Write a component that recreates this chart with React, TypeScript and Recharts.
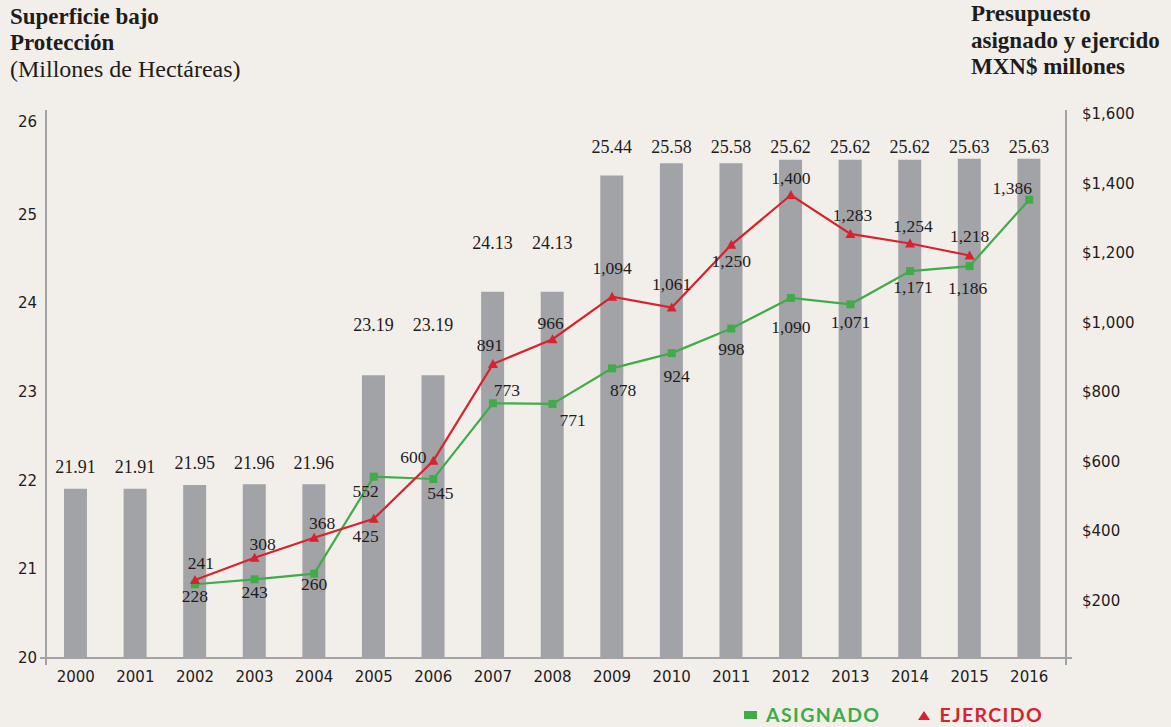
import React from 'react';
import { ComposedChart, Bar, Line, XAxis, YAxis, LabelList } from 'recharts';

const YEARS = ['2000', '2001', '2002', '2003', '2004', '2005', '2006', '2007', '2008', '2009', '2010', '2011', '2012', '2013', '2014', '2015', '2016'];
const SUPERFICIE = [21.91, 21.91, 21.95, 21.96, 21.96, 23.19, 23.19, 24.13, 24.13, 25.44, 25.58, 25.58, 25.62, 25.62, 25.62, 25.63, 25.63];
const ASIGNADO = [null, null, 228, 243, 260, 552, 545, 773, 771, 878, 924, 998, 1090, 1071, 1171, 1186, 1386];
const EJERCIDO = [null, null, 241, 308, 368, 425, 600, 891, 966, 1094, 1061, 1250, 1400, 1283, 1254, 1218, null];
const LEFT_TICKS = [20, 21, 22, 23, 24, 25, 26];
const RIGHT_TICKS = [6, 200, 400, 600, 800, 1000, 1200, 1400, 1600];

// label placement config (layout only)
const BAR_LABEL_GAP = [22, 22, 22, 21, 21, 50, 50, 49, 49, 29, 16, 16, 13, 13, 13, 12, 12];
const EJ_LABEL_OFF: [number, number][] = [[0, 0], [0, 0], [6, -17], [8, -14], [8, -15], [-8, 17], [-20, -4], [-3, -19], [-2, -16], [0, -29], [0, -24], [0, 16], [0, -17], [2, -19], [3, -18], [0, -19], [0, 0]];
const AS_LABEL_OFF: [number, number][] = [[0, 0], [0, 0], [0, 12], [0, 13], [0, 10], [-8, 14], [7, 14], [14, -13], [20, 16], [11, 22], [5, 23], [0, 20], [0, 29], [0, 18], [3, 16], [-2, 22], [-17, -12]];

const data = YEARS.map((y, i) => ({ year: y, sup: SUPERFICIE[i], asig: ASIGNADO[i], ejer: EJERCIDO[i] }));

const GREEN = '#40ac48';
const RED = '#d8222e';
const BAR = '#a2a3a7';
const AXIS = '#a3a3a5';
const TEXT = '#1e1c1c';
const BG = '#f2efea';
const SERIF = '"Liberation Serif", "Times New Roman", serif';
const SANS = '"DejaVu Sans", Verdana, sans-serif';

const fmt = (v: number) => v.toLocaleString('en-US');

const LeftTick = (props: any) => {
  const { x, y, payload } = props;
  const ax = x + 9;
  const dy = payload.value === 26 ? -4 : 0;
  return (
    <g>
      <text x={x} y={y + dy} textAnchor="end" dominantBaseline="central" fontFamily={SANS} fontSize={15} fill={TEXT}>{payload.value}</text>
      {payload.value === 20 && (
        <g stroke={AXIS} strokeWidth={2}>
          <line x1={ax - 6} y1={y} x2={ax} y2={y} />
          <line x1={ax} y1={y} x2={ax} y2={y + 7} />
        </g>
      )}
    </g>
  );
};

const RightTick = (props: any) => {
  const { x, y, payload } = props;
  const v = payload.value;
  const ax = x - 16;
  if (v < 100) {
    return (
      <g stroke={AXIS} strokeWidth={2}>
        <line x1={ax} y1={y} x2={ax + 6} y2={y} />
        <line x1={ax} y1={y} x2={ax} y2={y + 7} />
      </g>
    );
  }
  const dy = -14.6 + ((1600 - v) / 1400) * 22;
  return (
    <text x={x} y={y + dy} textAnchor="start" dominantBaseline="central" fontFamily={SANS} fontSize={15} fill={TEXT}>{'$' + fmt(v)}</text>
  );
};

const BarLabel = (props: any) => {
  const { x, y, width, value, index } = props;
  if (value == null) return null;
  const gap = BAR_LABEL_GAP[index] ?? 14;
  return (
    <text x={x + width / 2} y={y - gap} textAnchor="middle" dominantBaseline="central" fontFamily={SERIF} fontSize={18} fill={TEXT}>{value.toFixed(2)}</text>
  );
};

const makeLineLabel = (offs: [number, number][]) => (props: any) => {
  const { x, y, value, index } = props;
  if (value == null || x == null || y == null) return null;
  const o = offs[index] ?? [0, -14];
  return (
    <text x={x + o[0]} y={y + o[1]} textAnchor="middle" dominantBaseline="central" fontFamily={SERIF} fontSize={17.5} fill={TEXT}>{fmt(value)}</text>
  );
};

const SquareDot = (props: any) => {
  const { cx, cy, index } = props;
  if (cx == null || cy == null || props.value == null) return <g key={'s' + index} />;
  return <rect key={'s' + index} x={cx - 4} y={cy - 4} width={8} height={8} fill={GREEN} />;
};

const TriDot = (props: any) => {
  const { cx, cy, index } = props;
  if (cx == null || cy == null || props.value == null) return <g key={'t' + index} />;
  return <path key={'t' + index} d={`M${cx},${cy - 5} L${cx + 5},${cy + 4} L${cx - 5},${cy + 4} Z`} fill={RED} />;
};

export default function App() {
  return (
    <div style={{ position: 'fixed', left: 0, top: 0, width: 1171, height: 727, background: BG, overflow: 'hidden' }}>
      <div style={{ position: 'absolute', left: 10, top: 4, fontFamily: SERIF, fontSize: 23, lineHeight: '26px', color: TEXT }}>
        <div style={{ fontWeight: 700 }}>Superficie bajo</div>
        <div style={{ fontWeight: 700 }}>Protección</div>
        <div style={{ fontSize: 24 }}>(Millones de Hectáreas)</div>
      </div>
      <div style={{ position: 'absolute', left: 971, top: 1, fontFamily: SERIF, fontSize: 23, lineHeight: '26.5px', color: TEXT, fontWeight: 700 }}>
        <div>Presupuesto</div>
        <div>asignado y ejercido</div>
        <div>MXN$ millones</div>
      </div>
      <ComposedChart width={1171} height={727} data={data} margin={{ top: 110, right: 0, bottom: 39, left: 0 }}>
        <XAxis
          dataKey="year"
          axisLine={{ stroke: AXIS, strokeWidth: 2 }}
          tickLine={false}
          tickSize={0}
          tickMargin={13}
          height={30}
          padding={{ left: 0, right: 7 }}
          tick={{ fontFamily: SANS, fontSize: 15, fill: TEXT }}
          interval={0}
        />
        <YAxis
          yAxisId="left"
          orientation="left"
          width={46}
          domain={[20, 26.18]}
          ticks={LEFT_TICKS}
          allowDataOverflow
          axisLine={{ stroke: AXIS, strokeWidth: 2 }}
          tickLine={false}
          tickSize={0}
          tickMargin={9}
          tick={<LeftTick />}
          interval={0}
        />
        <YAxis
          yAxisId="right"
          orientation="right"
          width={105}
          domain={[6, 1656]}
          ticks={RIGHT_TICKS}
          allowDataOverflow
          axisLine={{ stroke: AXIS, strokeWidth: 2 }}
          tickLine={false}
          tickSize={0}
          tickMargin={16}
          tick={<RightTick />}
          interval={0}
        />
        <Bar yAxisId="left" dataKey="sup" fill={BAR} barSize={23} isAnimationActive={false}>
          <LabelList dataKey="sup" content={<BarLabel />} />
        </Bar>
        <Line yAxisId="right" dataKey="asig" stroke={GREEN} strokeWidth={2.2} dot={<SquareDot />} activeDot={false} isAnimationActive={false}>
          <LabelList dataKey="asig" content={makeLineLabel(AS_LABEL_OFF)} />
        </Line>
        <Line yAxisId="right" dataKey="ejer" stroke={RED} strokeWidth={2.2} dot={<TriDot />} activeDot={false} isAnimationActive={false}>
          <LabelList dataKey="ejer" content={makeLineLabel(EJ_LABEL_OFF)} />
        </Line>
      </ComposedChart>
      <div style={{ position: 'absolute', left: 744, top: 705, height: 20, lineHeight: '20px', display: 'flex', alignItems: 'center', fontFamily: 'Lato, "Open Sans", sans-serif', fontWeight: 700, fontSize: 19.5, letterSpacing: 1.4, whiteSpace: 'nowrap' }}>
        <span style={{ display: 'inline-block', width: 13, height: 8, background: GREEN, marginRight: 9 }} />
        <span style={{ color: GREEN }}>ASIGNADO</span>
        <span style={{ display: 'inline-block', width: 0, height: 0, borderLeft: '6.5px solid transparent', borderRight: '6.5px solid transparent', borderBottom: `9px solid ${RED}`, marginLeft: 37, marginRight: 10 }} />
        <span style={{ color: RED }}>EJERCIDO</span>
      </div>
    </div>
  );
}
